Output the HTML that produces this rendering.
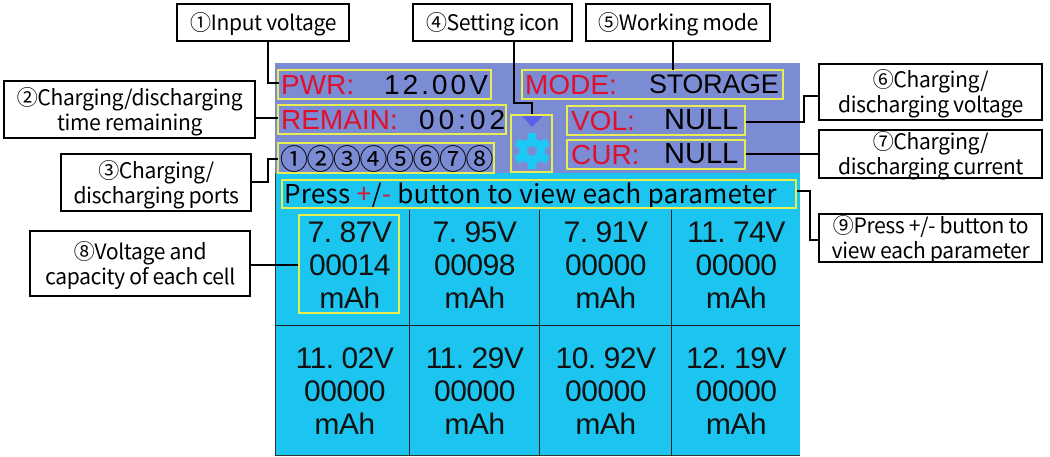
<!DOCTYPE html>
<html><head><meta charset="utf-8"><style>
body{margin:0;width:1050px;height:457px;background:#fff;position:relative;overflow:hidden;font-family:"Liberation Sans","Noto Sans CJK SC",sans-serif}
.a{position:absolute;box-sizing:border-box}
.lbl{position:absolute;box-sizing:border-box;border:2px solid #000;background:#fff;text-align:center;font-family:"Noto Sans CJK SC",sans-serif;font-size:21px;line-height:25px;color:#000;white-space:nowrap;display:flex;align-items:center;justify-content:center;flex-direction:column;letter-spacing:-0.3px}
.y{position:absolute;box-sizing:border-box;border:2px solid #e8ee50;font-size:28px;line-height:27px;white-space:nowrap;overflow:hidden}
.y span{position:absolute;top:0}
.r{color:#e0102a}
.cell{position:absolute;box-sizing:border-box;text-align:center;font-size:30px;line-height:33px;color:#111;padding-top:4px;letter-spacing:-0.5px}
</style></head><body>
<div class="a" style="left:275px;top:63px;width:525px;height:110px;background:#7b8bd4"></div>
<div class="a" style="left:275px;top:173px;width:525px;height:283px;background:#1cc5ef;border-left:1px solid #333;border-bottom:1px solid #333"></div>
<div class="a" style="left:275px;top:325px;width:525px;height:1px;background:#222"></div>
<div class="a" style="left:409px;top:210px;width:1px;height:246px;background:#222"></div>
<div class="a" style="left:539px;top:210px;width:1px;height:246px;background:#222"></div>
<div class="a" style="left:671px;top:210px;width:1px;height:246px;background:#222"></div>

<div class="y" style="left:277px;top:69px;width:215px;height:31px"><span class="r" style="left:2px">PWR:</span><span style="left:105px;letter-spacing:3px">12.00V</span></div>
<div class="y" style="left:277px;top:104px;width:230px;height:31px"><span class="r" style="left:2px">REMAIN:</span><span style="left:140px;letter-spacing:4px">00:02</span></div>
<div class="y" style="left:277px;top:142px;width:218px;height:32px;font-family:'Noto Sans CJK SC',sans-serif;font-size:28px;line-height:28px;padding-left:1px;letter-spacing:-1.5px">①②③④⑤⑥⑦⑧</div>
<div class="y" style="left:521px;top:69px;width:263px;height:31px"><span class="r" style="left:2px">MODE:</span><span style="left:126px;font-size:27px;letter-spacing:-0.3px">STORAGE</span></div>
<div class="y" style="left:566px;top:105px;width:180px;height:31px"><span class="r" style="left:3px">VOL:</span><span style="left:96px;font-size:29px">NULL</span></div>
<div class="y" style="left:566px;top:139px;width:180px;height:31px"><span class="r" style="left:3px">CUR:</span><span style="left:96px;font-size:29px">NULL</span></div>
<div class="y" style="left:510px;top:114px;width:43px;height:59px"></div>
<svg class="a" style="left:0;top:0" width="1050" height="457">
<polygon points="522,116 543,116 532,127" fill="#5a5ee8"/>
<g transform="translate(532,151)" fill="#1cc8f4">
<circle r="13"/>
<g id="t"><rect x="-4" y="-18" width="8" height="8"/></g>
<use href="#t" transform="rotate(60)"/><use href="#t" transform="rotate(120)"/><use href="#t" transform="rotate(180)"/><use href="#t" transform="rotate(240)"/><use href="#t" transform="rotate(300)"/>
<circle r="5" fill="#7b8bd4"/>
</g>
<g stroke="#000" stroke-width="2" fill="none">
<polyline points="268,41 268,83 279,83"/>
<line x1="256" y1="118" x2="278" y2="118"/>
<polyline points="252,182 268,182 268,159 278,159"/>
<line x1="251" y1="265" x2="298" y2="265"/>
<polyline points="514,41 514,103 532,103 532,114"/>
<line x1="673" y1="41" x2="673" y2="70"/>
<polyline points="746,122 804,122 804,96 818,96"/>
<line x1="746" y1="154" x2="818" y2="154"/>
<polyline points="797,191 810,191 810,240 818,240"/>
</g>
</svg>
<div class="y" style="left:281px;top:179px;width:516px;height:30px;font-family:'Noto Sans CJK SC',sans-serif;font-size:26px;line-height:24px;padding-left:1px;letter-spacing:0.3px">Press <b style="font-weight:normal" class="r">+</b>/<b style="font-weight:normal" class="r">-</b> button to view each parameter</div>
<div class="a" style="left:298px;top:214px;width:102px;height:100px;border:2px solid #e8ee50"></div>

<div class="cell" style="left:290px;top:212px;width:119px">7. 87V<br>00014<br>mAh</div>
<div class="cell" style="left:410px;top:212px;width:129px">7. 95V<br>00098<br>mAh</div>
<div class="cell" style="left:540px;top:212px;width:131px">7. 91V<br>00000<br>mAh</div>
<div class="cell" style="left:672px;top:212px;width:128px">11. 74V<br>00000<br>mAh</div>
<div class="cell" style="left:280px;top:338px;width:129px">11. 02V<br>00000<br>mAh</div>
<div class="cell" style="left:410px;top:338px;width:129px">11. 29V<br>00000<br>mAh</div>
<div class="cell" style="left:540px;top:338px;width:131px">10. 92V<br>00000<br>mAh</div>
<div class="cell" style="left:672px;top:338px;width:128px">12. 19V<br>00000<br>mAh</div>

<div class="lbl" style="left:176px;top:3px;width:174px;height:39px">①Input voltage</div>
<div class="lbl" style="left:412px;top:3px;width:161px;height:39px">④Setting icon</div>
<div class="lbl" style="left:585px;top:3px;width:186px;height:39px">⑤Working mode</div>
<div class="lbl" style="left:3px;top:80px;width:253px;height:59px">②Charging/discharging<br>time remaining</div>
<div class="lbl" style="left:60px;top:153px;width:192px;height:59px">③Charging/<br>discharging ports</div>
<div class="lbl" style="left:29px;top:230px;width:222px;height:67px">⑧Voltage and<br>capacity of each cell</div>
<div class="lbl" style="left:818px;top:63px;width:225px;height:58px">⑥Charging/<br>discharging voltage</div>
<div class="lbl" style="left:818px;top:129px;width:225px;height:50px">⑦Charging/<br>discharging current</div>
<div class="lbl" style="left:818px;top:213px;width:225px;height:50px">⑨Press +/- button to<br>view each parameter</div>
</body></html>
